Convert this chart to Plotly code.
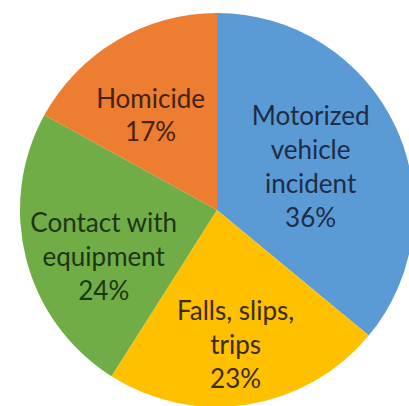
import plotly.graph_objects as go

labels = ["Motorized<br>vehicle<br>incident", "Falls, slips,<br>trips", "Contact with<br>equipment", "Homicide"]
values = [36, 23, 24, 17]
colors = ["#5B9BD5", "#FFC000", "#70AD47", "#ED7D31"]
text_colors = ["#1E2C45", "#3A2C00", "#1C3611", "#45220C"]
# leading blank line nudges a label block downward
label_lead = ["", "&nbsp;<br>", "&nbsp;<br>", "&nbsp;<br>"]

W, H = 420, 412

fig = go.Figure(go.Pie(
    labels=labels,
    values=values,
    text=label_lead,
    sort=False,
    direction="clockwise",
    rotation=0,
    marker=dict(colors=colors, line=dict(width=0)),
    texttemplate="%{text}%{label}<br>%{percent:.0%}",
    textposition="inside",
    insidetextorientation="horizontal",
    insidetextfont=dict(color=text_colors, size=26, family="Lato"),
    domain=dict(x=[20 / W, 414 / W], y=[(H - 407) / H, (H - 13) / H]),
    showlegend=False,
    hoverinfo="skip",
))
fig.update_layout(
    width=W, height=H,
    margin=dict(l=0, r=0, t=0, b=0),
    paper_bgcolor="white",
    plot_bgcolor="white",
    uniformtext=dict(mode="show", minsize=26),
)
fig.write_html(
    "out.html",
    config={"displayModeBar": False},
    post_script="document.body.style.margin='0';document.body.style.overflow='hidden';document.documentElement.style.overflow='hidden';",
)
